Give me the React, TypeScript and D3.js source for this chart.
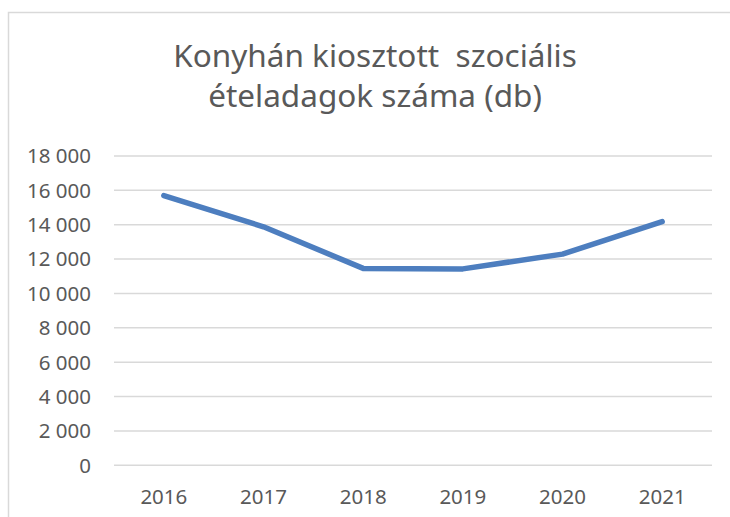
import React from "react";
import * as d3 from "d3";

const years: string[] = ["2016", "2017", "2018", "2019", "2020", "2021"];
const values: number[] = [15700, 13880, 11460, 11430, 12290, 14180];
const yTicks: number[] = [0, 2000, 4000, 6000, 8000, 10000, 12000, 14000, 16000, 18000];
const titleLines: string[] = ["Konyhán kiosztott  szociális", "ételadagok száma (db)"];

const W = 730;
const H = 517;
const FONT = "'Noto Sans', 'Open Sans', sans-serif";

function fmt(v: number): string {
  const s = String(v);
  return s.replace(/\B(?=(\d{3})+(?!\d))/g, " ");
}

export default function App() {
  const x = d3.scaleBand<string>().domain(years).range([114, 712]);
  const y = d3.scaleLinear().domain([0, 18000]).range([465.3, 156]);
  const line = d3
    .line<number>()
    .x((_, i) => (x(years[i]) as number) + x.bandwidth() / 2)
    .y((d) => y(d))
    .curve(d3.curveLinear);

  return (
    <svg
      width={W}
      height={H}
      style={{ position: "absolute", left: 0, top: 0, display: "block" }}
    >
      <rect x={0} y={0} width={W} height={H} fill="#ffffff" />
      <path d={`M8.5,${H} L8.5,12.5 L${W},12.5`} fill="none" stroke="#d9d9d9" strokeWidth={1.5} />
      {titleLines.map((t, i) => (
        <text
          key={i}
          x={375}
          y={67 + i * 40}
          textAnchor="middle"
          fontFamily={FONT}
          fontSize={31.5}
          fill="#595959"
          style={{ whiteSpace: "pre" }}
        >
          {t}
        </text>
      ))}
      {yTicks.map((t) => (
        <g key={t}>
          <line x1={114} x2={712} y1={y(t)} y2={y(t)} stroke="#d9d9d9" strokeWidth={1.5} />
          <text
            x={91}
            y={y(t)}
            dy="0.36em"
            textAnchor="end"
            fontFamily={FONT}
            fontSize={20.5}
            fill="#595959"
          >
            {fmt(t)}
          </text>
        </g>
      ))}
      {years.map((yr) => (
        <text
          key={yr}
          x={(x(yr) as number) + x.bandwidth() / 2}
          y={504}
          textAnchor="middle"
          fontFamily={FONT}
          fontSize={20.5}
          fill="#595959"
        >
          {yr}
        </text>
      ))}
      <path
        d={line(values) || ""}
        fill="none"
        stroke="#4d7ebf"
        strokeWidth={5.5}
        strokeLinecap="round"
        strokeLinejoin="round"
      />
    </svg>
  );
}
